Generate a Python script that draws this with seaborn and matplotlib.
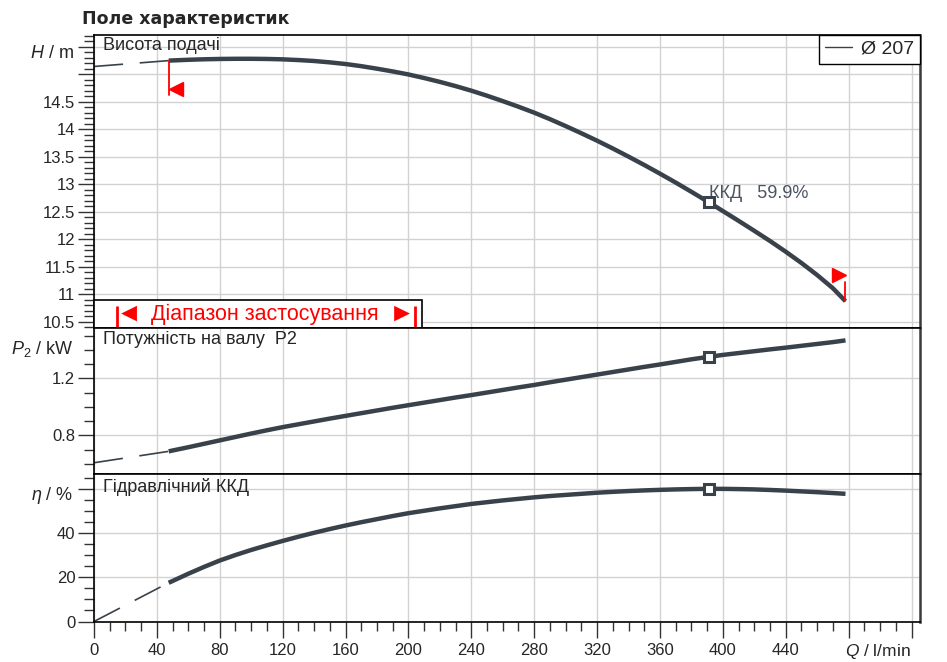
import pandas as pd
import matplotlib
matplotlib.use("Agg")
import matplotlib.pyplot as plt
import seaborn as sns
from matplotlib.lines import Line2D
from matplotlib.patches import Rectangle
from matplotlib.ticker import MultipleLocator, FixedLocator

# --- data (Q in l/min) ---
q = [47.5, 50, 60, 70, 80, 90, 100, 110, 120, 130, 140, 150, 160, 170, 180,
     190, 200, 210, 220, 230, 240, 250, 260, 270, 280, 290, 300, 310, 320,
     330, 340, 350, 360, 370, 380, 390, 400, 410, 420, 430, 440, 450, 460,
     470, 478]
head = [15.247, 15.250, 15.262, 15.271, 15.277, 15.280, 15.280, 15.277,
        15.270, 15.257, 15.240, 15.215, 15.185, 15.146, 15.100, 15.050,
        14.995, 14.930, 14.860, 14.783, 14.700, 14.608, 14.510, 14.408,
        14.300, 14.182, 14.056, 13.925, 13.790, 13.648, 13.500, 13.348,
        13.190, 13.028, 12.860, 12.688, 12.510, 12.332, 12.150, 11.965,
        11.770, 11.565, 11.345, 11.105, 10.870]
power = [0.687, 0.693, 0.716, 0.740, 0.764, 0.788, 0.812, 0.835, 0.857,
         0.877, 0.897, 0.917, 0.936, 0.955, 0.974, 0.993, 1.011, 1.029,
         1.047, 1.065, 1.082, 1.100, 1.118, 1.136, 1.153, 1.172, 1.190,
         1.208, 1.226, 1.244, 1.262, 1.280, 1.297, 1.315, 1.333, 1.349,
         1.364, 1.377, 1.390, 1.403, 1.415, 1.428, 1.441, 1.454, 1.466]
eff = [17.6, 18.4, 21.7, 24.8, 27.7, 30.2, 32.5, 34.6, 36.6, 38.5, 40.3,
       42.0, 43.6, 45.1, 46.5, 47.9, 49.2, 50.3, 51.4, 52.4, 53.4, 54.2,
       55.0, 55.7, 56.4, 57.0, 57.5, 58.0, 58.5, 58.9, 59.25, 59.55, 59.8,
       60.0, 60.15, 60.25, 60.25, 60.15, 60.0, 59.75, 59.45, 59.1, 58.75,
       58.35, 58.0]

# thin dashed part below the allowed operating range
q_ext = [0, 47.5]
head_ext = [15.14, 15.247]
power_ext = [0.607, 0.687]
eff_ext = [0, 17.6]

# best efficiency point
q_bep = 391
head_bep = 12.67
power_bep = 1.351
eff_bep = 60.25
eff_label = "ККД   59.9%"

range_q = [14.4, 204.2]  # application range bar
q_min_mark = 47.5
q_max_mark = 478

h_ticks = [10.5, 11, 11.5, 12, 12.5, 13, 13.5, 14, 14.5, 15, 15.5]
h_labels = ["10.5", "11", "11.5", "12", "12.5", "13", "13.5", "14", "14.5", "", ""]
p_ticks = [0.8, 1.2]
p_labels = ["0.8", "1.2"]
e_ticks = [0, 20, 40, 60]
e_labels = ["0", "20", "40", ""]
q_ticks = list(range(0, 521, 40))
q_labels = [str(v) if v <= 440 else "" for v in q_ticks]

df = pd.DataFrame({"q": q, "head": head, "power": power, "eff": eff})

sns.set_theme(style="white")
plt.rcParams["font.family"] = ["Liberation Sans", "DejaVu Sans"]
plt.rcParams["mathtext.fontset"] = "custom"
plt.rcParams["mathtext.rm"] = "Liberation Sans"
plt.rcParams["mathtext.it"] = "Liberation Sans:italic"
plt.rcParams["lines.scale_dashes"] = False

curve = "#39424a"
grid_c = "#d2d2d2"
red = "#ff0000"

fig = plt.figure(figsize=(9.47, 6.62), dpi=100)
W, H = 947, 662
left = 94 / W
width = (920 - 94) / W


def rect(top_px, bot_px):
    return [left, 1 - bot_px / H, width, (bot_px - top_px) / H]


ax_h = fig.add_axes(rect(34.5, 328))
ax_p = fig.add_axes(rect(328, 474))
ax_e = fig.add_axes(rect(474, 621.5))
axes = [ax_h, ax_p, ax_e]

for ax in axes:
    ax.set_facecolor("white")
    ax.set_xlim(0, 525.4)
    ax.xaxis.set_major_locator(FixedLocator(q_ticks))
    ax.xaxis.set_minor_locator(MultipleLocator(10))
    ax.grid(True, which="major", color=grid_c, lw=1)
    ax.set_axisbelow(True)
    for side in ["left", "top", "bottom"]:
        ax.spines[side].set_color("black")
        ax.spines[side].set_linewidth(1.2)
    ax.spines["right"].set_color("#3a3a3a")
    ax.spines["right"].set_linewidth(1.8)
    ax.tick_params(axis="y", which="major", direction="out", length=11.5,
                   width=1, color="#333333", pad=2, labelsize=12, left=True)
    ax.tick_params(axis="y", which="minor", direction="out", length=7,
                   width=1, color="#333333", left=True)
    ax.tick_params(axis="x", which="both", bottom=False, labelbottom=False)

ax_e.tick_params(axis="x", which="major", bottom=True, labelbottom=True,
                 direction="out", length=11.5, width=1, color="#333333",
                 pad=4, labelsize=12)
ax_e.tick_params(axis="x", which="minor", bottom=True, direction="out",
                 length=6.5, width=1, color="#333333")
ax_e.set_xticklabels(q_labels)

# --- head panel ---
ax_h.set_ylim(10.382, 15.722)
ax_h.yaxis.set_major_locator(FixedLocator(h_ticks))
ax_h.set_yticklabels(h_labels)
ax_h.yaxis.set_minor_locator(MultipleLocator(0.1))
sns.lineplot(data=df, x="q", y="head", ax=ax_h, color=curve, lw=3.2,
             sort=False, errorbar=None, solid_capstyle="butt")
ax_h.plot(q_ext, head_ext, color=curve, lw=1.2, dashes=(21, 12))
ax_h.plot([q_bep], [head_bep], marker="s", ms=7, mfc="white", mec=curve,
          mew=2.2, zorder=5)
ax_h.text(q_bep + 0.5, 12.756, eff_label, color="#4a5360", fontsize=13,
          ha="left", va="baseline")

# operating range limits
ax_h.plot([q_min_mark, q_min_mark], [head[0], 14.627], color=red, lw=1.3)
ax_h.plot([52.1], [14.736], marker="<", ms=10, color=red, mec=red, ls="none")
ax_h.plot([q_max_mark, q_max_mark], [head[-1], 11.219], color=red, lw=1.3)
ax_h.plot([473.7], [11.346], marker=">", ms=10, color=red, mec=red, ls="none")

# application range box
ax_h.add_patch(Rectangle((0, 10.382), 208.4, 10.891 - 10.382, fc="white",
                         ec="black", lw=1.2, zorder=4, clip_on=False))
for xq in range_q:
    ax_h.plot([xq, xq], [10.382, 10.78], color=red, lw=2, zorder=5,
              solid_capstyle="butt")
ax_h.text(22.3, 10.64, "◄", color=red, fontsize=19, ha="center",
          va="center", zorder=6)
ax_h.text(196.0, 10.64, "►", color=red, fontsize=19, ha="center",
          va="center", zorder=6)
ax_h.text(108.8, 10.636, "Діапазон застосування", color=red, fontsize=15.5,
          ha="center", va="center", zorder=6)

leg = ax_h.legend(handles=[Line2D([], [], color=curve, lw=1)],
                  labels=["Ø 207"], loc="upper right", borderaxespad=0,
                  fancybox=False, edgecolor="black", framealpha=1,
                  handlelength=1.4, handletextpad=0.45, fontsize=14,
                  borderpad=0.3)
leg.get_frame().set_linewidth(1)

# --- power panel ---
ax_p.set_ylim(0.528, 1.553)
ax_p.yaxis.set_major_locator(FixedLocator(p_ticks))
ax_p.set_yticklabels(p_labels)
ax_p.yaxis.set_minor_locator(MultipleLocator(0.1))
sns.lineplot(data=df, x="q", y="power", ax=ax_p, color=curve, lw=3.2,
             sort=False, errorbar=None, solid_capstyle="butt")
ax_p.plot(q_ext, power_ext, color=curve, lw=1.2, dashes=(21, 12))
ax_p.plot([q_bep], [power_bep], marker="s", ms=7, mfc="white", mec=curve,
          mew=2.2, zorder=5)

# --- efficiency panel ---
ax_e.set_ylim(0, 67)
ax_e.yaxis.set_major_locator(FixedLocator(e_ticks))
ax_e.set_yticklabels(e_labels)
ax_e.yaxis.set_minor_locator(MultipleLocator(5))
sns.lineplot(data=df, x="q", y="eff", ax=ax_e, color=curve, lw=3.2,
             sort=False, errorbar=None, solid_capstyle="butt")
ax_e.plot(q_ext, eff_ext, color=curve, lw=1.2, dashes=(21, 12))
ax_e.plot([q_bep], [eff_bep], marker="s", ms=7, mfc="white", mec=curve,
          mew=2.2, zorder=5, clip_on=False)

for ax in axes:
    ax.set_xlabel("")
    ax.set_ylabel("")

# panel titles
ax_h.annotate("Висота подачі", xy=(0, 1), xycoords="axes fraction",
              xytext=(6.5, -1.5), textcoords="offset points", ha="left",
              va="top", fontsize=13)
ax_p.annotate("Потужність на валу  P2", xy=(0, 1), xycoords="axes fraction",
              xytext=(6.5, -2.5), textcoords="offset points", ha="left",
              va="top", fontsize=13)
ax_e.annotate("Гідравлічний ККД", xy=(0, 1), xycoords="axes fraction",
              xytext=(6.5, -3), textcoords="offset points", ha="left",
              va="top", fontsize=13)

# axis labels in place of the top tick labels
ax_h.annotate("$H$ / m", xy=(0, 15.37), xycoords=("axes fraction", "data"),
              xytext=(-14.5, 0), textcoords="offset points", ha="right",
              va="center", fontsize=13)
ax_p.annotate("$P_{2}$ / kW", xy=(0, 1.404), xycoords=("axes fraction", "data"),
              xytext=(-14.5, 0), textcoords="offset points", ha="right",
              va="center", fontsize=13)
ax_e.annotate(r"$\eta$ / %", xy=(0, 57.3), xycoords=("axes fraction", "data"),
              xytext=(-14.5, 0), textcoords="offset points", ha="right",
              va="center", fontsize=13)
ax_e.annotate("$Q$ / l/min", xy=(478, 0), xycoords="data",
              xytext=(0, -14.5), textcoords="offset points", ha="left",
              va="top", fontsize=12.5)

fig.text(82 / W, 1 - 9.5 / H, "Поле характеристик", fontsize=12.5,
         fontweight="bold", family="DejaVu Sans", ha="left", va="top")

fig.savefig("out.png", dpi=100, facecolor="white")
plt.close(fig)
